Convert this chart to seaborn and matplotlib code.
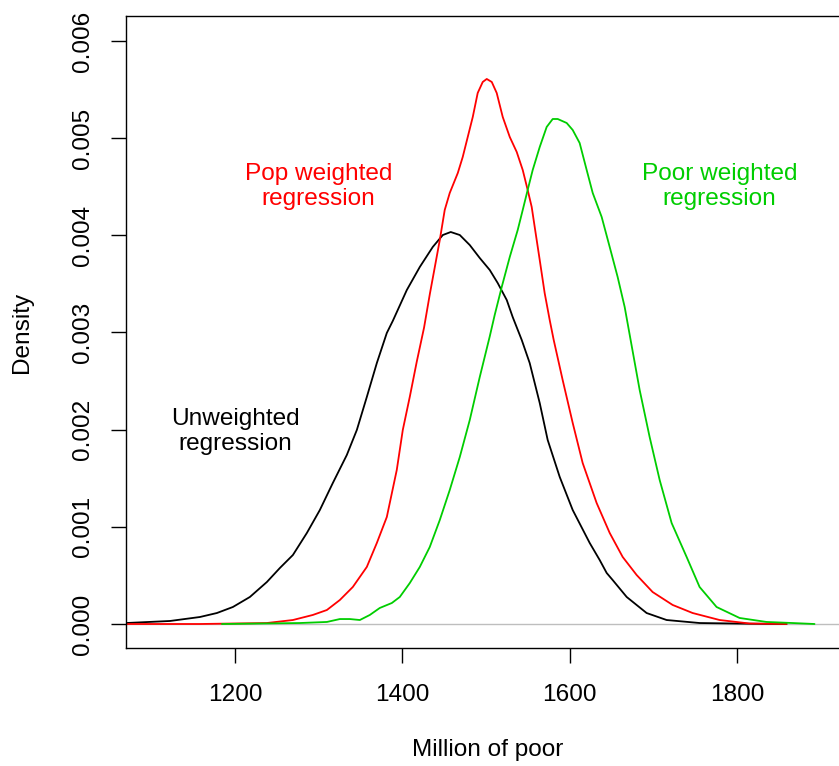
import matplotlib
matplotlib.use("Agg")
import matplotlib.pyplot as plt
import seaborn as sns
import pandas as pd

# ---- data (x in millions, density) ----
unw_x = [1069.9, 1122.4, 1158.2, 1178.5, 1197.6, 1217.9, 1238.2, 1253.7, 1269.3, 1286.0,
         1301.5, 1317.0, 1333.7, 1345.7, 1357.6, 1369.6, 1381.5, 1388.7, 1405.4, 1420.9,
         1436.4, 1448.4, 1457.9, 1468.7, 1480.6, 1492.5, 1504.5, 1514.0, 1524.8, 1531.9,
         1542.7, 1552.2, 1564.2, 1573.7, 1588.1, 1603.6, 1623.9, 1635.8, 1644.2, 1651.3,
         1668.1, 1691.9, 1715.8, 1755.2, 1814.9, 1859.1]
unw_y = [0.000010, 0.000031, 0.000072, 0.000113, 0.000175, 0.000278, 0.000432, 0.000576,
         0.000710, 0.000937, 0.001173, 0.001451, 0.001739, 0.001997, 0.002336, 0.002686,
         0.002995, 0.003120, 0.003437, 0.003674, 0.003880, 0.004003, 0.004034, 0.004003,
         0.003900, 0.003767, 0.003643, 0.003509, 0.003334, 0.003159, 0.002923, 0.002686,
         0.002274, 0.001894, 0.001513, 0.001173, 0.000834, 0.000659, 0.000525, 0.000453,
         0.000278, 0.000113, 0.000041, 0.000010, 0.000003, 0.0]

pop_x = [1069.9, 1158.2, 1238.2, 1269.3, 1293.1, 1309.9, 1325.4, 1340.9, 1357.6, 1369.6,
         1381.5, 1393.4, 1400.6, 1409.0, 1417.3, 1426.0, 1433.0, 1439.0, 1444.8, 1450.7,
         1456.7, 1466.3, 1472.2, 1478.2, 1484.2, 1490.1, 1496.1, 1500.9, 1506.9, 1512.8,
         1520.0, 1528.4, 1536.7, 1543.9, 1549.8, 1554.6, 1558.2, 1564.2, 1570.1, 1576.1,
         1580.9, 1591.6, 1603.6, 1615.5, 1632.2, 1647.8, 1663.3, 1680.0, 1699.1, 1723.0,
         1746.9, 1779.1, 1814.9, 1859.1]
pop_y = [0.0, 0.0, 0.000010, 0.000041, 0.000093, 0.000144, 0.000247, 0.000381, 0.000587,
         0.000834, 0.001101, 0.001585, 0.001997, 0.002340, 0.002700, 0.003050, 0.003400,
         0.003680, 0.003952, 0.004261, 0.004436, 0.004641, 0.004806, 0.005012, 0.005218,
         0.005465, 0.005578, 0.005609, 0.005578, 0.005465, 0.005218, 0.005012, 0.004858,
         0.004672, 0.004467, 0.004292, 0.004086, 0.003746, 0.003406, 0.003129, 0.002923,
         0.002511, 0.002069, 0.001657, 0.001245, 0.000937, 0.000690, 0.000504, 0.000329,
         0.000196, 0.000113, 0.000041, 0.000005, 0.0]

poor_x = [1184.5, 1277.6, 1309.9, 1325.4, 1337.3, 1349.3, 1361.2, 1373.1, 1387.5, 1397.0,
          1409.0, 1420.9, 1432.8, 1444.8, 1456.7, 1468.7, 1480.6, 1492.5, 1504.5, 1510.4,
          1518.8, 1528.4, 1537.9, 1543.9, 1549.8, 1555.8, 1564.2, 1572.5, 1579.7, 1585.7,
          1596.4, 1603.6, 1611.9, 1620.3, 1627.5, 1638.2, 1647.8, 1657.3, 1665.7, 1672.8,
          1683.6, 1695.5, 1707.5, 1721.8, 1739.7, 1755.2, 1775.5, 1803.0, 1835.2, 1866.3,
          1892.5]
poor_y = [0.0, 0.000010, 0.000021, 0.000051, 0.000051, 0.000041, 0.000093, 0.000165,
          0.000216, 0.000278, 0.000422, 0.000587, 0.000792, 0.001070, 0.001379, 0.001719,
          0.002099, 0.002540, 0.002960, 0.003180, 0.003468, 0.003777, 0.004055, 0.004261,
          0.004467, 0.004672, 0.004909, 0.005115, 0.005197, 0.005197, 0.005156, 0.005084,
          0.004950, 0.004672, 0.004436, 0.004189, 0.003880, 0.003571, 0.003262, 0.002923,
          0.002408, 0.001925, 0.001482, 0.001039, 0.000690, 0.000381, 0.000175, 0.000062,
          0.000021, 0.000010, 0.0]

series_names = ["Unweighted", "Pop weighted", "Poor weighted"]
series_colors = ["#000000", "#FF0000", "#00CD00"]

x_ticks = [1200, 1400, 1600, 1800]
y_ticks = [0.000, 0.001, 0.002, 0.003, 0.004, 0.005, 0.006]
y_tick_labels = ["0.000", "0.001", "0.002", "0.003", "0.004", "0.005", "0.006"]

labels_text = ["Unweighted\nregression", "Pop weighted\nregression", "Poor weighted\nregression"]
labels_x = [1201, 1300, 1779]
labels_y = [0.00198, 0.00450, 0.00450]

# ---- build long-form table ----
df = pd.concat([
    pd.DataFrame({"x": unw_x, "y": unw_y, "series": series_names[0]}),
    pd.DataFrame({"x": pop_x, "y": pop_y, "series": series_names[1]}),
    pd.DataFrame({"x": poor_x, "y": poor_y, "series": series_names[2]}),
], ignore_index=True)

sns.set_style("ticks")
plt.rcParams["font.family"] = ["Liberation Sans", "DejaVu Sans"]
FS = 17.6

W, H = 839, 766
fig = plt.figure(figsize=(W / 100, H / 100), dpi=100)
L, R, T, B = 126, 850, 16, 648
ax = fig.add_axes([L / W, (H - B) / H, (R - L) / W, (B - T) / H])

ax.axhline(0, color="#BEBEBE", lw=1.0, zorder=1)

sns.lineplot(data=df, x="x", y="y", hue="series", palette=dict(zip(series_names, series_colors)),
             sort=False, estimator=None, lw=1.3, legend=False, ax=ax, zorder=2)

for t, lx, ly, c in zip(labels_text, labels_x, labels_y, series_colors):
    ax.text(lx, ly, t, color=c, fontsize=FS, ha="center", va="center", linespacing=1.2)

ax.set_xlim(1069.9, 1934.9)
ax.set_ylim(-0.000247, 0.006257)
ax.set_xticks(x_ticks)
ax.set_xticklabels([str(v) for v in x_ticks])
ax.set_yticks(y_ticks)
ax.set_yticklabels(y_tick_labels, rotation=90, va="center")

for s in ax.spines.values():
    s.set_color("black")
    s.set_linewidth(1.0)

ax.tick_params(axis="both", direction="out", length=11, width=1.0, color="black",
               labelsize=FS, labelcolor="black")
ax.tick_params(axis="x", pad=15)
ax.tick_params(axis="y", pad=12)

ax.set_xlabel("Million of poor", fontsize=FS, color="black")
ax.set_ylabel("Density", fontsize=FS, color="black")
ax.xaxis.set_label_coords((488 - L) / (R - L), (B - 750) / (B - T))
ax.xaxis.label.set_va("center")
ax.yaxis.set_label_coords((22 - L) / (R - L), 0.5)
ax.yaxis.label.set_va("center")

fig.savefig("out.png", dpi=100)
